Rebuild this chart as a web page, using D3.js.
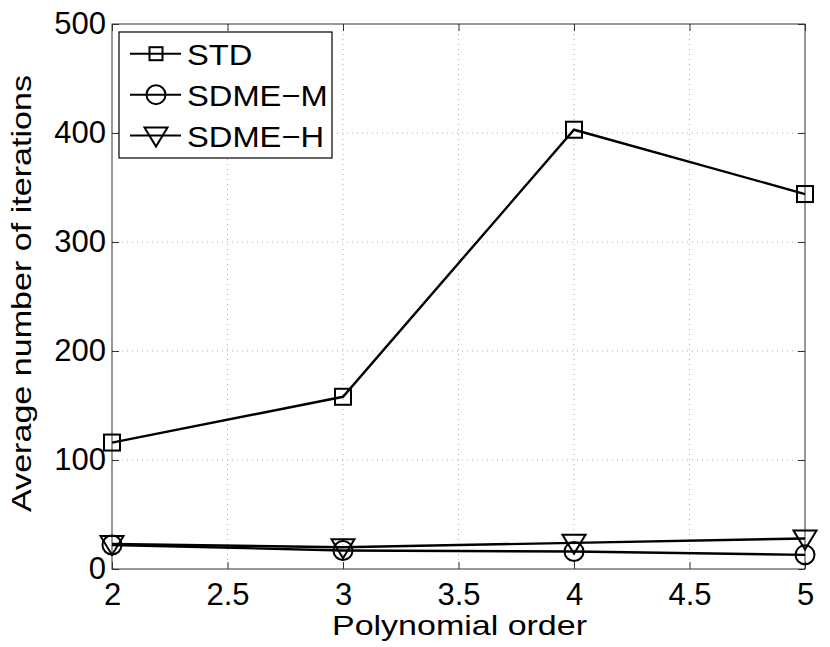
<!DOCTYPE html>
<html>
<head>
<meta charset="utf-8">
<script src="https://cdn.jsdelivr.net/npm/d3@7"></script>
<style>
  body { margin: 0; background: #fff; }
  text { font-family: "Liberation Sans", Arial, sans-serif; }
</style>
</head>
<body>
<div id="container"></div>
<script>
const orders = [2, 3, 4, 5];
const stdValues = [116, 158, 403, 344];
const sdmeMValues = [22, 17, 16, 13];
const sdmeHValues = [23, 20, 24, 28];
const seriesNames = ["STD", "SDME-M", "SDME-H"];
const xTicks = [2, 2.5, 3, 3.5, 4, 4.5, 5];
const yTicks = [0, 100, 200, 300, 400, 500];

const width = 830;
const height = 647;
const plotLeft = 112, plotRight = 805, plotTop = 24, plotBottom = 569;

const svg = d3.select("#container").append("svg")
  .attr("width", width)
  .attr("height", height);

const x = d3.scaleLinear().domain([2, 5]).range([plotLeft, plotRight]);
const y = d3.scaleLinear().domain([0, 500]).range([plotBottom, plotTop]);

// grid
const grid = svg.append("g").attr("class", "grid")
  .attr("stroke", "#b0b0b0")
  .attr("stroke-width", 1)
  .attr("stroke-dasharray", "1,4");
grid.selectAll(".gx").data(xTicks.slice(1, -1)).join("line")
  .attr("x1", d => x(d)).attr("x2", d => x(d))
  .attr("y1", plotTop).attr("y2", plotBottom);
grid.selectAll(".gy").data(yTicks.slice(1, -1)).join("line")
  .attr("x1", plotLeft).attr("x2", plotRight)
  .attr("y1", d => y(d)).attr("y2", d => y(d));

// axes, ticks pointing inward
const tickLen = 7;
const xAxis = d3.axisBottom(x).tickValues(xTicks).tickSize(-tickLen).tickPadding(14)
  .tickFormat(d3.format("~g"));
const xAxisTop = d3.axisTop(x).tickValues(xTicks).tickSize(-tickLen).tickFormat("");
const yAxis = d3.axisLeft(y).tickValues(yTicks).tickSize(-tickLen).tickPadding(6);
const yAxisRight = d3.axisRight(y).tickValues(yTicks).tickSize(-tickLen).tickFormat("");

function styleAxis(g) {
  g.select(".domain").remove();
  g.selectAll("line").attr("stroke", "#333").attr("stroke-width", 1);
  g.selectAll("text").attr("fill", "#000").attr("font-size", 31)
    .attr("font-family", "Liberation Sans, Arial, sans-serif");
}

svg.append("g").attr("transform", `translate(0,${plotBottom})`).call(xAxis).call(styleAxis);
svg.append("g").attr("transform", `translate(0,${plotTop})`).call(xAxisTop).call(styleAxis);
svg.append("g").attr("transform", `translate(${plotLeft},0)`).call(yAxis).call(styleAxis);
svg.append("g").attr("transform", `translate(${plotRight},0)`).call(yAxisRight).call(styleAxis);

svg.append("rect")
  .attr("x", plotLeft).attr("y", plotTop)
  .attr("width", plotRight - plotLeft).attr("height", plotBottom - plotTop)
  .attr("fill", "none").attr("stroke", "#333").attr("stroke-width", 1);

// labels (glyphs in the source are wider than Arial, so stretch to the measured length)
svg.append("text")
  .attr("x", 332).attr("y", 635)
  .attr("font-size", 28)
  .attr("textLength", 255)
  .attr("lengthAdjust", "spacingAndGlyphs")
  .text("Polynomial order");
svg.append("text")
  .attr("transform", `translate(31,512) rotate(-90)`)
  .attr("font-size", 28)
  .attr("textLength", 437)
  .attr("lengthAdjust", "spacingAndGlyphs")
  .text("Average number of iterations");

// markers
function drawMarker(g, type, small) {
  if (type === "square") {
    const h = small ? 6.5 : 8;
    g.append("rect").attr("x", -h).attr("y", -h).attr("width", 2 * h).attr("height", 2 * h);
  } else if (type === "circle") {
    g.append("circle").attr("r", 9.5);
  } else {
    g.append("path").attr("d", "M-11.5,-8 L11.5,-8 L0,11 Z");
  }
}

const series = [
  { name: seriesNames[0], values: stdValues, marker: "square" },
  { name: seriesNames[1], values: sdmeMValues, marker: "circle" },
  { name: seriesNames[2], values: sdmeHValues, marker: "triangle" }
];

const line = d3.line().x(d => x(d[0])).y(d => y(d[1]));

series.forEach(s => {
  const pts = orders.map((o, i) => [o, s.values[i]]);
  svg.append("path")
    .attr("d", line(pts))
    .attr("fill", "none")
    .attr("stroke", "#000")
    .attr("stroke-width", 2.4);
  svg.selectAll(null).data(pts).join("g")
    .attr("transform", d => `translate(${x(d[0])},${y(d[1])})`)
    .attr("fill", "none")
    .attr("stroke", "#000")
    .attr("stroke-width", 2)
    .each(function () { drawMarker(d3.select(this), s.marker, false); });
});

// legend
const legend = svg.append("g");
legend.append("rect")
  .attr("x", 119).attr("y", 32)
  .attr("width", 213).attr("height", 126)
  .attr("fill", "#fff").attr("stroke", "#000").attr("stroke-width", 1.2);
const rowY = [53.7, 94.7, 135.5];
series.forEach((s, i) => {
  const ly = rowY[i];
  legend.append("line")
    .attr("x1", 130).attr("x2", 181)
    .attr("y1", ly).attr("y2", ly)
    .attr("stroke", "#000").attr("stroke-width", 2);
  const m = legend.append("g")
    .attr("transform", `translate(156,${ly})`)
    .attr("fill", "none").attr("stroke", "#000").attr("stroke-width", 2);
  drawMarker(m, s.marker, true);
  legend.append("text")
    .attr("transform", `translate(187,${ly + 11.7}) scale(1.09,1)`)
    .attr("font-size", 30)
    .text(s.name.replace("-", "\u2212"));
});
</script>
</body>
</html>
